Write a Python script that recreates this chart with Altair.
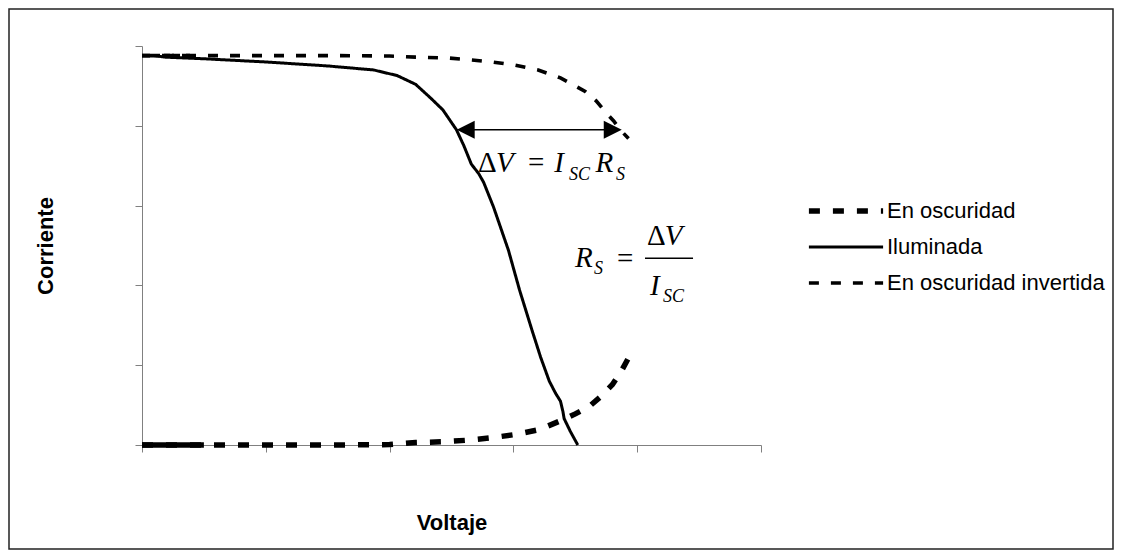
import altair as alt
import pandas as pd

SANS = "Liberation Sans"
SERIF = "Liberation Serif"
GRAY = "#808080"

series = ["En oscuridad", "Iluminada", "En oscuridad invertida"]

# En oscuridad (dark curve)
V_dark = [0.0, 0.1, 0.2, 0.3, 0.4, 0.5, 1.0, 1.5, 2.0, 2.21, 2.42, 2.63, 2.84, 3.03,
          3.21, 3.40, 3.50, 3.61, 3.70, 3.80, 3.87, 3.95]
I_dark = [0.0, 0.0, 0.0, 0.0, 0.0, 0.0, 0.0, 0.0, 0.005, 0.03, 0.04, 0.06, 0.094, 0.135,
          0.193, 0.316, 0.39, 0.479, 0.60, 0.758, 0.92, 1.15]

# Iluminada (illuminated curve)
V_illum = [0.0, 0.1, 0.19, 0.5, 1.0, 1.5, 1.87, 2.06, 2.21, 2.33, 2.43, 2.54, 2.60, 2.66,
           2.72, 2.76, 2.84, 2.96, 3.05, 3.15, 3.22, 3.29, 3.34, 3.38, 3.40, 3.41, 3.46, 3.52]
I_illum = [4.88, 4.88, 4.86, 4.84, 4.80, 4.75, 4.70, 4.63, 4.52, 4.35, 4.20, 3.95, 3.75, 3.52,
           3.40, 3.29, 2.98, 2.44, 1.94, 1.44, 1.10, 0.80, 0.65, 0.55, 0.42, 0.33, 0.17, 0.0]

# En oscuridad invertida
V_inv = [0.0, 0.1, 0.2, 0.3, 0.4, 0.5, 1.0, 1.5, 2.0, 2.21, 2.47, 2.63, 2.83, 3.01, 3.20,
         3.38, 3.50, 3.58, 3.67, 3.75, 3.81, 3.875, 3.93]
I_inv = [4.88, 4.88, 4.88, 4.88, 4.88, 4.88, 4.88, 4.88, 4.875, 4.86, 4.85, 4.83, 4.80, 4.76,
         4.70, 4.60, 4.50, 4.43, 4.31, 4.16, 4.06, 3.93, 3.84]

# annotation anchors (data units)
roman_t = ["\u0394", "=", "=", "\u0394"]
roman_x = [2.714, 3.118, 3.837, 4.079]
roman_y = [3.425, 3.425, 2.218, 2.506]
ital_t = ["V", "I", "R", "R", "V", "I"]
ital_x = [2.860, 3.330, 3.664, 3.498, 4.222, 4.103]
ital_y = [3.425, 3.425, 3.425, 2.234, 2.506, 1.880]
sub_t = ["SC", "S", "S", "SC"]
sub_x = [3.449, 3.829, 3.651, 4.208]
sub_y = [3.321, 3.321, 2.143, 1.792]
frac_x, frac_x2, frac_y = [4.063], [4.451], [2.340]
arrow_x, arrow_x2, arrow_y = [2.60], [3.82], [3.95]
head_left_x, head_right_x = [2.542], [3.875]

rows = []
for name, vs, cs in [(series[0], V_dark, I_dark), (series[1], V_illum, I_illum),
                     (series[2], V_inv, I_inv)]:
    for v, c in zip(vs, cs):
        rows.append({"serie": name, "V": v, "I": c})
df = pd.DataFrame(rows)
dark_start = pd.DataFrame({"V": [v for v in V_dark if v <= 0.5],
                           "I": [c for v, c in zip(V_dark, I_dark) if v <= 0.5]})
inv_start = pd.DataFrame({"V": [v for v in V_inv if v <= 0.45],
                          "I": [c for v, c in zip(V_inv, I_inv) if v <= 0.45]})

W, H = 619, 399
xs = alt.Scale(domain=[0, 5], nice=False, zero=False)
ys = alt.Scale(domain=[0, 5], nice=False, zero=False)

x_axis = alt.Axis(values=[0, 1, 2, 3, 4, 5], labels=False, grid=False, tickSize=7,
                  domainColor=GRAY, tickColor=GRAY, title="Voltaje", titleFont=SANS,
                  titleFontSize=22, titleFontWeight="bold", titleColor="black",
                  titleX=309.5, titleY=84, titleBaseline="alphabetic", titleAlign="center")
y_axis = alt.Axis(values=[0, 1, 2, 3, 4, 5], labels=False, grid=False, tickSize=7,
                  domainColor=GRAY, tickColor=GRAY, title="Corriente", titleFont=SANS,
                  titleFontSize=22, titleFontWeight="bold", titleColor="black",
                  titleAngle=270, titleX=-97, titleY=199.5, titleBaseline="middle",
                  titleAlign="center")

legend = alt.Legend(title=None, orient="none", legendX=693, legendY=154, padding=0,
                    symbolType="M-8,0H8", symbolSize=86, symbolStrokeColor="black",
                    labelFont=SANS, labelFontSize=22, labelColor="black", labelLimit=0,
                    labelOffset=30, rowPadding=14)

lines = alt.Chart(df).mark_line(color="black", strokeCap="butt").encode(
    x=alt.X("V:Q", scale=xs, axis=x_axis),
    y=alt.Y("I:Q", scale=ys, axis=y_axis),
    strokeDash=alt.StrokeDash("serie:N", scale=alt.Scale(domain=series,
                              range=[[11, 13], [1, 0], [10, 12]]), legend=legend),
    strokeWidth=alt.StrokeWidth("serie:N", scale=alt.Scale(type="ordinal", domain=series,
                                range=[5.5, 3.0, 3.6]), legend=legend),
    order=alt.Order("V:Q"),
)

dark_band = alt.Chart(dark_start).mark_line(color="black", strokeWidth=5.5).encode(
    x=alt.X("V:Q", scale=xs), y=alt.Y("I:Q", scale=ys))
inv_band = alt.Chart(inv_start).mark_line(color="black", strokeWidth=3.6,
                                          strokeDash=[8, 2]).encode(
    x=alt.X("V:Q", scale=xs), y=alt.Y("I:Q", scale=ys))

arrow = alt.Chart(pd.DataFrame({"x": arrow_x, "x2": arrow_x2, "y": arrow_y})).mark_rule(
    color="black", strokeWidth=1.6).encode(
    x=alt.X("x:Q", scale=xs), x2="x2:Q", y=alt.Y("y:Q", scale=ys))
head_l = alt.Chart(pd.DataFrame({"x": head_left_x, "y": arrow_y})).mark_point(
    shape="M0,0L2,-1L2,1Z", size=324, filled=True, color="black", opacity=1).encode(
    x=alt.X("x:Q", scale=xs), y=alt.Y("y:Q", scale=ys))
head_r = alt.Chart(pd.DataFrame({"x": head_right_x, "y": arrow_y})).mark_point(
    shape="M0,0L-2,-1L-2,1Z", size=324, filled=True, color="black", opacity=1).encode(
    x=alt.X("x:Q", scale=xs), y=alt.Y("y:Q", scale=ys))

frac = alt.Chart(pd.DataFrame({"x": frac_x, "x2": frac_x2, "y": frac_y})).mark_rule(
    color="black", strokeWidth=1.3).encode(
    x=alt.X("x:Q", scale=xs), x2="x2:Q", y=alt.Y("y:Q", scale=ys))


def txt(t, x, y, size, style):
    return alt.Chart(pd.DataFrame({"t": t, "x": x, "y": y})).mark_text(
        font=SERIF, fontSize=size, fontStyle=style, align="left",
        baseline="alphabetic", color="black").encode(
        x=alt.X("x:Q", scale=xs), y=alt.Y("y:Q", scale=ys), text="t:N")


roman = txt(roman_t, roman_x, roman_y, 29, "normal")
ital = txt(ital_t, ital_x, ital_y, 29, "italic")
subs = txt(sub_t, sub_x, sub_y, 18, "italic")

border = alt.Chart(pd.DataFrame({"a": [0]})).mark_rect(
    fill="transparent", stroke="#222222", strokeWidth=1.5).encode(
    x=alt.value(-133), x2=alt.value(971), y=alt.value(-37), y2=alt.value(503))

chart = alt.layer(border, dark_band, inv_band, lines, arrow, head_l, head_r, frac,
                  roman, ital, subs).properties(
    width=W, height=H,
    autosize=alt.AutoSizeParams(type="none"),
    padding={"left": 134, "top": 38, "right": 353, "bottom": 105},
    background="white",
).configure_view(stroke="transparent")

chart.save("out.html", embed_options={"renderer": "svg", "actions": False})
